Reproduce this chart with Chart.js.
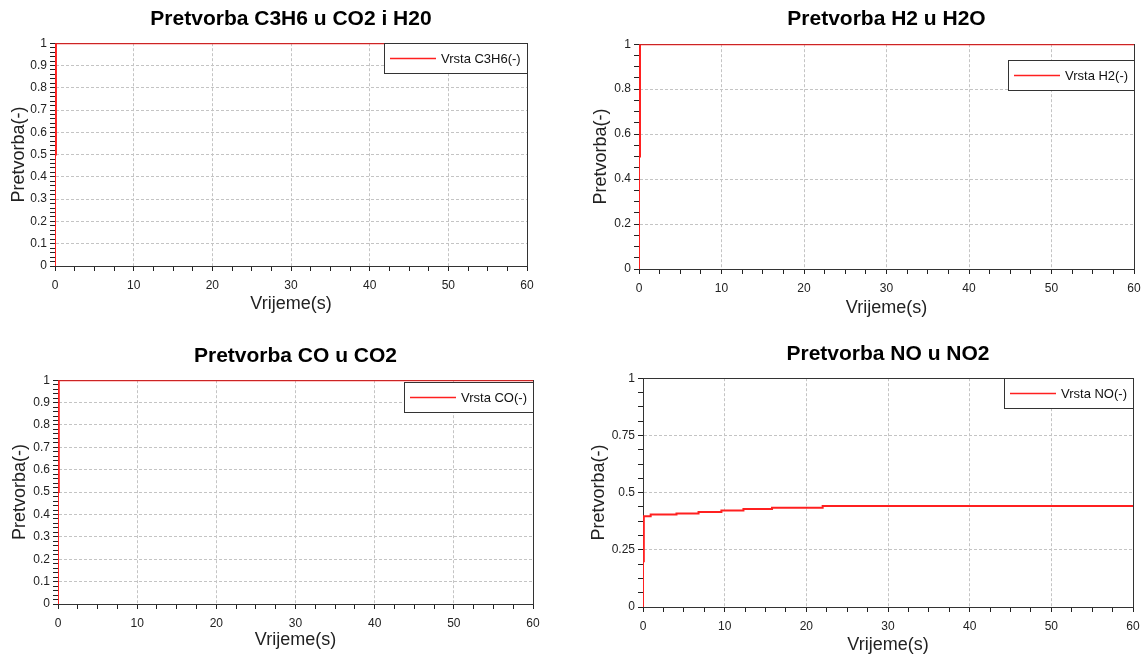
<!DOCTYPE html>
<html>
<head>
<meta charset="utf-8">
<script src="https://cdn.jsdelivr.net/npm/chart.js@4.4.1/dist/chart.umd.min.js"></script>
<style>
  html, body { margin: 0; padding: 0; background: #fff; overflow: hidden; }
  .plot { position: absolute; }
</style>
</head>
<body>
<div class="plot" style="left:0;top:0"><canvas id="c3h6" width="573" height="328"></canvas></div>
<div class="plot" style="left:584px;top:0"><canvas id="h2" width="562" height="328"></canvas></div>
<div class="plot" style="left:0;top:328px"><canvas id="co" width="573" height="329"></canvas></div>
<div class="plot" style="left:584px;top:328px"><canvas id="no" width="562" height="329"></canvas></div>
<script>
// time (s) and conversion (-)
const timeC3H6 = [0, 0, 0.12, 60];
const convC3H6 = [0, 0.5, 1, 1];

const timeH2 = [0, 0, 0.12, 60];
const convH2 = [0, 0.5, 1, 1];

const timeCO = [0, 0, 0.1, 60];
const convCO = [0, 0.5, 1, 1];

const timeNO = [0, 0, 0.1, 0.94, 4.1, 6.8, 9.6, 12.3, 15.8, 22.0, 60];
const convNO = [0, 0.2, 0.397, 0.404, 0.409, 0.415, 0.422, 0.428, 0.434, 0.441, 0.441];

const titles = ['Pretvorba C3H6 u CO2 i H20', 'Pretvorba H2 u H2O', 'Pretvorba CO u CO2', 'Pretvorba NO u NO2'];
const labels = ['Vrsta C3H6(-)', 'Vrsta H2(-)', 'Vrsta CO(-)', 'Vrsta NO(-)'];
const xTitle = 'Vrijeme(s)';
const yTitle = 'Pretvorba(-)';

const FONT = '"Liberation Sans", Arial, sans-serif';
const RED = '#ff2020';
const GRID = '#c4c4c4';

// frame round the plot area
const frame = {
    id: 'frame',
    beforeDatasetsDraw(chart) {
        const a = chart.chartArea;
        const ctx = chart.ctx;
        ctx.save();
        ctx.strokeStyle = '#333';
        ctx.lineWidth = 1;
        ctx.strokeRect(Math.round(a.left) + 0.5, Math.round(a.top) + 0.5,
            Math.round(a.right - a.left), Math.round(a.bottom - a.top));
        ctx.restore();
    }
};

// boxed legend in the top right corner
const boxLegend = {
    id: 'boxLegend',
    afterDatasetsDraw(chart, args, opts) {
        const a = chart.chartArea;
        const ctx = chart.ctx;
        const ds = chart.data.datasets[0];
        ctx.save();
        ctx.font = '13px ' + FONT;
        const tw = ctx.measureText(ds.label).width;
        const w = Math.round(6 + 46 + 5 + tw + 6);
        const h = 30;
        const x = Math.round(a.right) - w;
        const y = Math.round(a.top) + opts.offset;
        ctx.fillStyle = '#fff';
        ctx.fillRect(x, y, w, h);
        ctx.strokeStyle = '#333';
        ctx.lineWidth = 1;
        ctx.strokeRect(x + 0.5, y + 0.5, w, h);
        ctx.strokeStyle = ds.borderColor;
        ctx.lineWidth = 1.5;
        ctx.beginPath();
        ctx.moveTo(x + 6, y + 15.5);
        ctx.lineTo(x + 52, y + 15.5);
        ctx.stroke();
        ctx.fillStyle = '#111';
        ctx.textBaseline = 'middle';
        ctx.fillText(ds.label, x + 57, y + 16);
        ctx.restore();
    }
};

function makeChart(id, title, label, times, values, cfg) {
    const pts = times.map((t, i) => ({ x: t, y: values[i] }));
    return new Chart(document.getElementById(id), {
        type: 'line',
        data: {
            datasets: [{
                label: label,
                data: pts,
                borderColor: RED,
                borderWidth: 2,
                pointRadius: 0,
                stepped: true,
                fill: false
            }]
        },
        options: {
            responsive: false,
            animation: false,
            layout: { padding: { left: 0, right: cfg.padRight, top: 0, bottom: 0 } },
            plugins: {
                legend: { display: false },
                tooltip: { enabled: false },
                title: {
                    display: true,
                    text: title,
                    fullSize: false,
                    color: '#000',
                    font: { family: FONT, size: 21, weight: 'bold', lineHeight: 1.2 },
                    padding: { top: cfg.titleTop, bottom: cfg.titleBottom }
                },
                boxLegend: { offset: cfg.legendOffset }
            },
            scales: {
                x: {
                    type: 'linear',
                    min: 0,
                    max: 60,
                    afterFit: s => {
                        s.height = cfg.xHeight;
                        s.paddingLeft = 0;
                        s.paddingRight = 0;
                    },
                    ticks: {
                        stepSize: 2.5,
                        autoSkip: false,
                        maxRotation: 0,
                        padding: 7,
                        color: '#222',
                        font: { family: FONT, size: 12 },
                        callback: (v, i) => (i % 4 === 0 ? String(v) : '')
                    },
                    grid: {
                        color: c => (c.index % 4 === 0 ? GRID : 'rgba(0,0,0,0)'),
                        tickColor: '#222',
                        tickLength: 5,
                        lineWidth: 1
                    },
                    border: { color: '#222', dash: [3, 2] },
                    title: {
                        display: true,
                        text: xTitle,
                        color: '#222',
                        font: { family: FONT, size: 18, lineHeight: 1.2 },
                        padding: { top: 0, bottom: cfg.xTitleBottom }
                    }
                },
                y: {
                    type: 'linear',
                    min: 0,
                    max: 1,
                    afterFit: s => {
                        s.width = cfg.yWidth;
                        s.paddingTop = 0;
                        s.paddingBottom = 0;
                    },
                    ticks: {
                        stepSize: cfg.yStep,
                        autoSkip: false,
                        padding: 3,
                        color: '#222',
                        font: { family: FONT, size: 12 },
                        callback: (v, i) => (i % cfg.yMajor === 0 ? String(+v.toFixed(3)) : '')
                    },
                    grid: {
                        color: c => (c.index % cfg.yMajor === 0 ? GRID : 'rgba(0,0,0,0)'),
                        tickColor: '#222',
                        tickLength: 5,
                        lineWidth: 1
                    },
                    border: { color: '#222', dash: [3, 2] },
                    title: {
                        display: true,
                        text: yTitle,
                        color: '#222',
                        font: { family: FONT, size: 18, lineHeight: 1.2 },
                        padding: { top: cfg.yTitleTop, bottom: 0 }
                    }
                }
            }
        },
        plugins: [frame, boxLegend]
    });
}

makeChart('c3h6', titles[0], labels[0], timeC3H6, convC3H6, {
    padRight: 46, titleTop: 7, titleBottom: 11, xHeight: 62, xTitleBottom: 13,
    yWidth: 55, yTitleTop: 8, yStep: 0.02, yMajor: 5, legendOffset: 0
});
makeChart('h2', titles[1], labels[1], timeH2, convH2, {
    padRight: 12, titleTop: 7, titleBottom: 12, xHeight: 59, xTitleBottom: 9,
    yWidth: 55, yTitleTop: 6, yStep: 0.05, yMajor: 4, legendOffset: 16
});
makeChart('co', titles[2], labels[2], timeCO, convCO, {
    padRight: 40, titleTop: 16, titleBottom: 11, xHeight: 53, xTitleBottom: 6,
    yWidth: 58, yTitleTop: 9, yStep: 0.02, yMajor: 5, legendOffset: 2
});
makeChart('no', titles[3], labels[3], timeNO, convNO, {
    padRight: 13, titleTop: 14, titleBottom: 11, xHeight: 50, xTitleBottom: 1,
    yWidth: 59, yTitleTop: 4, yStep: 0.0625, yMajor: 4, legendOffset: 0
});
</script>
</body>
</html>
